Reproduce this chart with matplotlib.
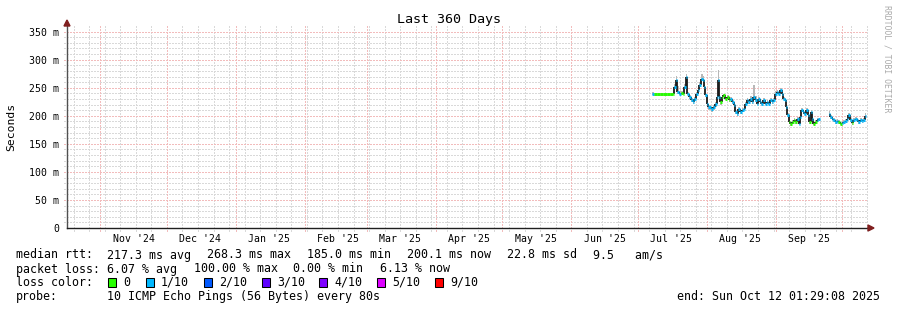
import matplotlib
matplotlib.use('Agg')
import matplotlib.pyplot as plt
import matplotlib.dates as mdates
from matplotlib.ticker import NullLocator
from matplotlib.collections import LineCollection
from matplotlib.patches import Rectangle, Polygon
from matplotlib.transforms import blended_transform_factory
from datetime import datetime, timedelta
import numpy as np

# ---------------- data ----------------
title = "Last 360 Days"
y_label = "Seconds"
y_ticks = [0, 50, 100, 150, 200, 250, 300, 350]
y_tick_labels = ["0", "50 m", "100 m", "150 m", "200 m", "250 m", "300 m", "350 m"]
month_labels = ["Nov '24", "Dec '24", "Jan '25", "Feb '25", "Mar '25", "Apr '25",
                "May '25", "Jun '25", "Jul '25", "Aug '25", "Sep '25"]
end_time = datetime(2025, 10, 12, 1, 29, 8)
span_days = 360
series_base = datetime(2025, 7, 1, 1, 29, 8)

# days after series_base
days = [6.55, 7.6, 9.1, 10.6, 12.1, 13.6, 15.1, 15.85, 16.6, 17.35,
        17.8, 18.55, 19.6, 20.35, 21.1, 21.85, 22.3, 23.05, 24.1, 24.85,
        25.6, 26.35, 27.1, 27.85, 28.6, 29.35, 29.8, 30.55, 31.15, 32.05,
        33.1, 34.15, 35.05, 35.65, 36.1, 36.55, 37.15, 37.9, 38.8, 39.55,
        40.3, 41.05, 41.8, 42.55, 43.3, 44.05, 44.65, 45.4, 46.15, 47.05,
        47.8, 48.55, 49.15, 49.9, 50.65, 51.55, 52.15, 52.9, 53.65, 54.25,
        55.0, 55.75, 56.65, 57.4, 58.15, 59.05, 59.65, 60.55, 61.15, 61.9,
        62.65, 63.4, 64.15, 64.9, 65.5, 66.25, 66.85, 67.45, 68.05, 68.8,
        69.55, 70.3, 71.05, 71.8, 72.55, 73.15, 73.75, 74.35, 75.1, 75.85,
        76.6, 77.35, 78.1, 78.55, 79.15, 79.9, 80.65, 81.4,
        86.05, 86.65, 87.4, 88.15, 88.9, 89.65, 90.4, 91.15, 91.9, 92.65,
        93.4, 94.15, 94.9, 95.65, 96.4, 97.15, 97.9, 98.65, 99.4, 100.15,
        100.9, 101.65, 102.4]

median_ms = [239.6, 238.4, 238.4, 238.4, 238.4, 238.4, 238.4, 239.6, 251.5, 263.4,
             242.6, 239.6, 240.8, 239.6, 251.5, 268.3, 239.6, 233.7, 227.8, 224.8,
             230.7, 239.6, 245.6, 254.4, 266.3, 263.4, 251.5, 236.7, 221.8, 215.9,
             212.9, 215.9, 221.8, 233.7, 263.4, 233.7, 224.8, 233.7, 236.7, 230.7,
             233.7, 227.8, 230.7, 224.8, 218.9, 207.0, 204.0, 212.9, 207.0, 210.0,
             212.9, 221.8, 227.8, 224.8, 230.7, 224.8, 233.7, 227.8, 221.8, 230.7,
             224.8, 221.8, 227.8, 221.8, 224.8, 221.8, 227.8, 224.8, 227.8, 239.6,
             242.6, 239.6, 245.6, 239.6, 230.7, 227.8, 215.9, 201.1, 189.2, 185.0,
             189.2, 192.2, 189.2, 195.1, 186.2, 198.1, 210.0, 207.0, 204.0, 210.0,
             201.1, 189.2, 207.0, 195.1, 186.2, 189.2, 192.2, 193.4,
             204.0, 198.1, 195.1, 192.2, 189.2, 191.0, 189.2, 186.2, 188.0, 189.2,
             191.0, 193.4, 201.1, 192.2, 187.4, 192.2, 195.1, 192.2, 189.2, 192.2,
             190.4, 192.2, 200.1]

# loss level per point: 0 -> "0", 1 -> "1/10"
loss_level = [1, 0, 0, 0, 0, 0, 0, 0, 1, 1,
              1, 1, 0, 0, 1, 1, 1, 1, 1, 1,
              1, 1, 1, 1, 1, 1, 1, 1, 1, 1,
              1, 1, 1, 1, 1, 1, 0, 0, 0, 0,
              0, 0, 1, 1, 1, 1, 1, 1, 1, 1,
              1, 1, 1, 1, 1, 1, 1, 1, 1, 1,
              1, 1, 1, 1, 1, 1, 1, 1, 1, 1,
              1, 1, 1, 1, 1, 1, 1, 1, 0, 0,
              0, 0, 0, 1, 1, 1, 1, 1, 1, 1,
              1, 0, 1, 1, 0, 0, 1, 1,
              1, 1, 1, 1, 1, 1, 0, 0, 1, 1,
              1, 1, 1, 1, 0, 1, 1, 1, 1, 1,
              1, 1, 1]

# smoke extent above / below the median (ms)
smoke_up = [3, 3, 3, 3, 3, 3, 3, 3, 6, 8,
            10, 4, 3, 3, 5, 6, 3, 3, 3, 3,
            3, 3, 4, 6, 9, 8, 4, 3, 3, 3,
            3, 3, 3, 4, 18, 4, 3, 3, 3, 3,
            3, 3, 3, 3, 3, 3, 3, 3, 3, 3,
            3, 3, 3, 3, 4, 6, 21, 8, 3, 3,
            3, 3, 3, 3, 3, 3, 3, 3, 3, 4,
            3, 3, 4, 3, 3, 3, 3, 3, 3, 3,
            3, 3, 3, 3, 3, 3, 4, 3, 3, 3,
            3, 3, 4, 3, 3, 3, 3, 3,
            4, 3, 3, 3, 3, 3, 3, 3, 3, 3,
            3, 3, 4, 3, 3, 3, 3, 3, 3, 3,
            3, 3, 4]
smoke_down = [3, 3, 3, 3, 3, 3, 3, 3, 3, 3,
              3, 3, 3, 3, 3, 3, 3, 3, 3, 3,
              3, 3, 3, 3, 3, 3, 3, 3, 6, 6,
              6, 6, 6, 3, 3, 5, 5, 3, 3, 3,
              3, 3, 3, 3, 3, 3, 5, 3, 3, 3,
              3, 3, 3, 3, 3, 3, 3, 3, 3, 3,
              3, 3, 3, 3, 3, 3, 3, 3, 3, 3,
              3, 3, 3, 3, 3, 3, 3, 3, 3, 3,
              3, 3, 3, 3, 3, 3, 3, 3, 3, 3,
              3, 3, 3, 3, 3, 3, 3, 3,
              3, 3, 3, 3, 3, 3, 3, 3, 3, 3,
              3, 3, 3, 3, 3, 3, 3, 3, 3, 3,
              3, 3, 3]

loss_colors = ["#26ff00", "#00b8ff", "#0059ff", "#5e00ff", "#7e00ff", "#dd00ff", "#ff0000"]
loss_names = ["0", "1/10", "2/10", "3/10", "4/10", "5/10", "9/10"]

rtt_stats = ["217.3 ms avg", "268.3 ms max", "185.0 ms min", "200.1 ms now", "22.8 ms sd", "9.5   am/s"]
loss_stats = ["6.07 % avg", "100.00 % max", "0.00 % min", "6.13 % now"]
probe_text = "10 ICMP Echo Pings (56 Bytes) every 80s"
end_text = "end: Sun Oct 12 01:29:08 2025"
watermark = "RRDTOOL / TOBI OETIKER"

# ---------------- layout ----------------
W, H = 897, 310
MONO = 'DejaVu Sans Mono'
GRID_MINOR = '#d9d9d9'
GRID_MAJOR = '#f2bcbc'
fig = plt.figure(figsize=(W / 100, H / 100), dpi=100)
fig.patch.set_facecolor('white')


def fx(px):
    return px / W


def fy(py):
    return 1 - py / H


ax = fig.add_axes([fx(67), fy(228), 800 / W, 202 / H])
ax.set_facecolor('white')
start_time = end_time - timedelta(days=span_days)
t_end = mdates.date2num(end_time)
t_start = mdates.date2num(start_time)
ax.set_xlim(t_start, t_end)
ax.set_ylim(0, 360)

# ---- grid drawn explicitly (crisp 1px dotted lines) ----
dots = (0, (1.39, 1.39))
month_dates = []
yy, mo = start_time.year, start_time.month
while True:
    mo += 1
    if mo > 12:
        mo, yy = 1, yy + 1
    d = datetime(yy, mo, 1)
    if d >= end_time:
        break
    month_dates.append(d)
month_locs = [mdates.date2num(d) for d in month_dates]

first_sun = datetime(start_time.year, start_time.month, start_time.day)
while first_sun.weekday() != 6 or first_sun <= start_time:
    first_sun += timedelta(days=1)
week_locs = []
d = first_sun
while d < end_time:
    v = mdates.date2num(d)
    if min(abs(v - mm) for mm in month_locs) > 0.6:
        week_locs.append(v)
    d += timedelta(days=7)

yminor = [v for v in range(10, 360, 10) if v % 50 != 0]
ymajor = [v for v in range(50, 360, 50)]

xtr = blended_transform_factory(ax.transData, ax.transAxes)
ytr = blended_transform_factory(ax.transAxes, ax.transData)
ext = 3 / 202
gkw = dict(lw=0.72, ls=dots, clip_on=False, antialiased=False, snap=True)
for v in week_locs:
    ax.plot([v, v], [-ext, 1], transform=xtr, color=GRID_MINOR, zorder=1, **gkw)
for v in yminor:
    ax.plot([-3 / 800, 1], [v, v], transform=ytr, color=GRID_MINOR, zorder=1, **gkw)
for v in month_locs:
    ax.plot([v, v], [-ext, 1], transform=xtr, color=GRID_MAJOR, zorder=1.2, **gkw)
for v in ymajor:
    ax.plot([-3 / 800, 1], [v, v], transform=ytr, color=GRID_MAJOR, zorder=1.2, **gkw)

ax.xaxis.set_major_locator(NullLocator())
ax.xaxis.set_minor_locator(NullLocator())
ax.set_yticks(y_ticks)
ax.set_yticklabels(y_tick_labels, family=MONO, fontsize=7.1)
ax.yaxis.set_minor_locator(NullLocator())
ax.tick_params(axis='y', which='major', length=0, pad=7.7 * 0.72)
for s in ['top', 'right']:
    ax.spines[s].set_visible(False)
ax.spines['left'].set_color('#505050')
ax.spines['bottom'].set_color('#1f1f1f')
ax.spines['left'].set_linewidth(1.0)
ax.spines['bottom'].set_linewidth(1.0)
ax.spines['left'].set_zorder(5)
ax.spines['bottom'].set_zorder(5)

# month labels (centered in the month)
trans = blended_transform_factory(ax.transData, fig.transFigure)
for d, lab in zip(month_dates, month_labels):
    pos = mdates.date2num(d + timedelta(days=15))
    ax.text(pos, fy(238.5), lab, transform=trans, ha='center', va='center',
            family=MONO, fontsize=7.1, clip_on=False)

# ---------------- data drawing ----------------
t = mdates.date2num(series_base) + np.array(days)
m = np.array(median_ms)
up = np.array(smoke_up)
dn = np.array(smoke_down)
lv = np.array(loss_level)

breaks = np.where(np.diff(t) > 2.0)[0]
starts = np.concatenate([[0], breaks + 1])
stops = np.concatenate([breaks + 1, [len(t)]])

hsegs, hcols, vsegs = [], [], []
for a, b in zip(starts, stops):
    tt = t[a:b]
    mm = m[a:b]
    mids = (tt[:-1] + tt[1:]) / 2
    left = np.concatenate([[tt[0] - 0.37], mids])
    right = np.concatenate([mids, [tt[-1] + 0.37]])
    xs, lo, hi = [], [], []
    for k in range(len(tt)):
        xs += [left[k], right[k]]
        lo += [mm[k] - dn[a + k]] * 2
        hi += [mm[k] + up[a + k]] * 2
    ax.fill_between(xs, lo, hi, color='#b8b8b8', linewidth=0, zorder=2)
    for k in range(len(tt)):
        hsegs.append([(left[k], mm[k]), (right[k], mm[k])])
        hcols.append(loss_colors[lv[a + k]])
        if k < len(tt) - 1:
            vsegs.append([(right[k], mm[k]), (right[k], mm[k + 1])])

ax.add_collection(LineCollection(vsegs, colors='#1a1a1a', linewidths=1.3, zorder=3))
ax.add_collection(LineCollection(hsegs, colors=hcols, linewidths=2.1, zorder=4,
                                 capstyle='butt'))

# arrows
arrow_c = '#801f1f'
fig.add_artist(Polygon([(fx(868), fy(225)), (fx(868), fy(231)), (fx(874), fy(228))],
                       closed=True, color=arrow_c, transform=fig.transFigure))
fig.add_artist(Polygon([(fx(64), fy(26)), (fx(70), fy(26)), (fx(67), fy(20))],
                       closed=True, color=arrow_c, transform=fig.transFigure))

# ---------------- texts ----------------
fig.text(0.5, fy(19), title, ha='center', va='center', family=MONO, fontsize=9.6)
fig.text(fx(11), fy(127), y_label, rotation=90, ha='center', va='center',
         family=MONO, fontsize=8.2)
fig.text(fx(887), fy(5), watermark, rotation=270, ha='center', va='top',
         family=MONO, fontsize=5.9, color='#aaaaaa')

LF = 8.37


def ltext(px, cy, s, ha='left'):
    fig.text(fx(px), fy(cy + 4.2), s, ha=ha, va='baseline', family=MONO, fontsize=LF)


ltext(16, 254.3, "median rtt:")
for px, s in zip([107, 207, 307, 407, 507, 592.7], rtt_stats):
    ltext(px, 254.3, s)

ltext(16, 268.3, "packet loss:")
for px, s in zip([107, 194, 293.3, 380], loss_stats):
    ltext(px, 268.3, s)

ltext(16, 281.7, "loss color:")
for bx, c, name in zip([108, 146, 204, 262, 319, 377, 435], loss_colors, loss_names):
    fig.add_artist(Rectangle((fx(bx), fy(286.5)), 8 / W, 9 / H, facecolor=c,
                             edgecolor='black', linewidth=0.75, transform=fig.transFigure))
    ltext(bx + 15, 281.7, name)

ltext(16, 295.7, "probe:")
ltext(107, 295.7, probe_text)
ltext(880, 295.7, end_text, ha='right')

fig.savefig('out.png', dpi=100, facecolor='white')
